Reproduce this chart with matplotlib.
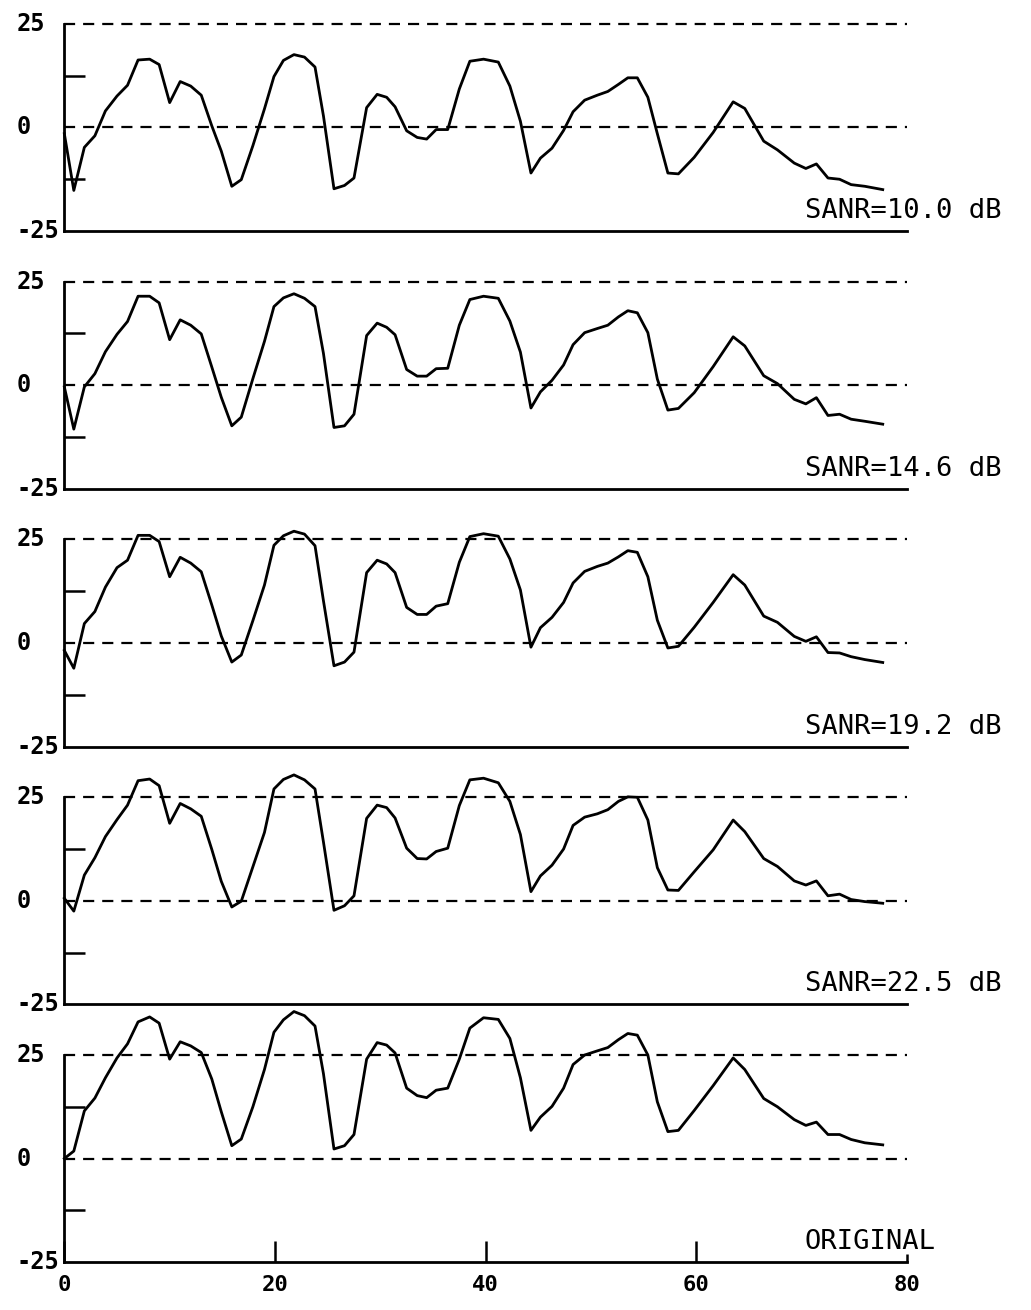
import numpy as np
import matplotlib
matplotlib.use('Agg')
import matplotlib.pyplot as plt
from matplotlib.transforms import blended_transform_factory

# frame positions of the break points of the contours (shared by all panels)
frames = [0, 0.9, 1.9, 2.9, 3.9, 5.0, 6.0, 7.0, 8.1, 9.0,
          10.0, 11.0, 12.0, 13.0, 14.0, 14.9, 15.9, 16.8, 17.9, 19.0,
          19.9, 20.8, 21.8, 22.8, 23.8, 24.6, 25.6, 26.6, 27.5, 28.7,
          29.7, 30.6, 31.4, 32.5, 33.5, 34.4, 35.3, 36.4, 37.5, 38.5,
          39.8, 41.2, 42.3, 43.3, 44.3, 45.2, 46.3, 47.4, 48.3, 49.4,
          50.6, 51.6, 52.6, 53.5, 54.4, 55.4, 56.3, 57.3, 58.3, 59.8,
          61.6, 63.5, 64.6, 66.4, 67.7, 69.3, 70.4, 71.4, 72.5, 73.6,
          74.7, 76.0, 77.7]

sanr_10_0 = [-1.5, -15.2, -4.8, -2.0, 4.0, 7.6, 10.2, 16.3, 16.5, 15.2,
             6.0, 11.1, 10.0, 7.8, 0.4, -5.7, -14.2, -12.6, -4.4, 4.5,
             12.3, 16.2, 17.6, 17.0, 14.6, 2.8, -14.8, -14.0, -12.2, 4.8,
             8.0, 7.3, 5.0, -0.8, -2.4, -2.8, -0.5, -0.5, 9.3, 16.0,
             16.5, 15.8, 10.0, 1.5, -11.0, -7.4, -5.0, -0.7, 3.8, 6.6,
             7.8, 8.7, 10.4, 12.0, 12.0, 7.3, -1.5, -11.0, -11.2, -7.2,
             -1.2, 6.2, 4.6, -3.3, -5.4, -8.6, -9.9, -8.8, -12.2, -12.5,
             -13.8, -14.2, -15.0]

sanr_14_6 = [-0.4, -10.6, -0.4, 2.8, 8.1, 12.3, 15.4, 21.5, 21.5, 19.9,
             11.0, 15.8, 14.5, 12.4, 4.4, -2.9, -9.8, -7.7, 1.6, 10.6,
             19.0, 21.1, 22.1, 21.0, 19.0, 7.7, -10.2, -9.8, -7.0, 12.0,
             15.0, 14.0, 12.2, 3.8, 2.2, 2.2, 4.0, 4.1, 14.5, 20.7,
             21.5, 21.0, 15.5, 8.0, -5.5, -1.6, 1.2, 4.9, 9.8, 12.7,
             13.7, 14.5, 16.5, 18.0, 17.5, 12.7, 1.5, -6.0, -5.6, -1.8,
             4.5, 11.7, 9.5, 2.3, 0.4, -3.4, -4.5, -3.0, -7.3, -7.0,
             -8.2, -8.7, -9.4]

sanr_19_2 = [-1.8, -6.1, 4.7, 7.6, 13.5, 18.2, 20.0, 26.0, 26.0, 24.5,
             16.0, 20.7, 19.3, 17.2, 9.2, 1.7, -4.6, -2.9, 5.4, 14.0,
             23.6, 25.9, 27.0, 26.3, 23.5, 10.2, -5.5, -4.6, -2.2, 17.0,
             20.0, 19.1, 17.0, 8.6, 6.9, 6.9, 8.9, 9.5, 19.5, 25.7,
             26.4, 25.8, 20.3, 12.8, -1.0, 3.7, 6.2, 9.8, 14.5, 17.3,
             18.5, 19.3, 20.8, 22.3, 21.9, 16.0, 5.5, -1.2, -0.8, 3.8,
             9.8, 16.5, 14.0, 6.5, 5.0, 1.6, 0.4, 1.5, -2.3, -2.4,
             -3.3, -4.0, -4.7]

sanr_22_5 = [0.6, -2.5, 6.2, 10.4, 15.5, 19.6, 23.1, 29.0, 29.4, 27.8,
             18.7, 23.5, 22.2, 20.4, 12.4, 4.7, -1.5, -0.1, 8.2, 16.5,
             27.0, 29.3, 30.4, 29.2, 27.0, 14.2, -2.3, -1.2, 1.2, 19.9,
             23.1, 22.5, 20.0, 12.7, 10.2, 10.1, 11.9, 12.7, 23.0, 29.2,
             29.6, 28.5, 24.0, 16.0, 2.2, 6.0, 8.6, 12.5, 18.2, 20.2,
             21.0, 22.0, 24.0, 25.1, 25.0, 19.5, 8.0, 2.6, 2.5, 7.0,
             12.3, 19.5, 16.7, 10.2, 8.3, 4.8, 3.8, 4.8, 1.2, 1.6,
             0.3, -0.2, -0.6]

original = [0.0, 1.8, 11.5, 14.6, 19.5, 24.3, 27.7, 33.0, 34.2, 32.7,
            24.0, 28.2, 27.2, 25.6, 19.2, 11.3, 3.1, 4.7, 12.5, 21.5,
            30.5, 33.5, 35.5, 34.5, 32.0, 20.5, 2.3, 3.1, 5.8, 24.0,
            28.0, 27.4, 25.5, 17.0, 15.2, 14.7, 16.5, 17.0, 24.0, 31.5,
            34.0, 33.6, 29.0, 19.5, 6.8, 10.0, 12.6, 17.0, 22.7, 25.0,
            26.0, 26.8, 28.7, 30.2, 29.8, 25.0, 13.7, 6.5, 6.8, 11.6,
            17.6, 24.3, 21.5, 14.5, 12.5, 9.4, 8.0, 8.8, 5.8, 5.8,
            4.6, 3.8, 3.3]

labels = ['SANR=10.0 dB', 'SANR=14.6 dB', 'SANR=19.2 dB', 'SANR=22.5 dB', 'ORIGINAL']
curves = [sanr_10_0, sanr_14_6, sanr_19_2, sanr_22_5, original]
y_ticks = [25, 0, -25]
y_ticklabels = ['25', '0', '-25']
x_ticks = [0, 20, 40, 60, 80]

plt.rcParams['font.family'] = ['DejaVu Sans Mono', 'DejaVu Sans']

fig, axes = plt.subplots(5, 1, figsize=(10.31, 13.10), dpi=100,
                         gridspec_kw=dict(left=0.0624, right=0.8797, top=0.9817,
                                          bottom=0.0366, hspace=0.245))

for i, ax in enumerate(axes):
    ax.plot(frames, curves[i], color='black', lw=2.0, clip_on=False, zorder=3)
    # reference lines at 0 and 25
    for level in (0, 25):
        ax.axhline(level, color='black', lw=1.6, linestyle=(0, (5.0, 3.6)), clip_on=False)
    ax.set_xlim(0, 80)
    ax.set_ylim(-25, 25)
    for side in ('top', 'right'):
        ax.spines[side].set_visible(False)
    ax.spines['left'].set_linewidth(2.0)
    ax.spines['bottom'].set_linewidth(2.0)
    ax.set_yticks([-12.5, 12.5])
    ax.set_yticklabels([])
    ax.tick_params(axis='y', direction='in', length=15, width=1.8)

    # y labels sit left-aligned at the figure edge
    trans = blended_transform_factory(fig.transFigure, ax.transData)
    for val, txt in zip(y_ticks, y_ticklabels):
        ax.text(0.016, val, txt, transform=trans, ha='left', va='center',
                fontsize=17, fontweight='bold')

    ax.text(70.3, -20.2, labels[i], ha='left', va='center', fontsize=19.5)

    if i < 4:
        ax.set_xticks([])
    else:
        ax.set_xticks(x_ticks)
        ax.set_xticklabels([str(t) for t in x_ticks], fontsize=16, fontweight='bold')
        ax.tick_params(axis='x', direction='in', length=15, width=1.8, pad=9)
        ax.xaxis.get_major_ticks()[-1].tick1line.set_markersize(6)

fig.savefig('out.png', dpi=100, facecolor='white')
